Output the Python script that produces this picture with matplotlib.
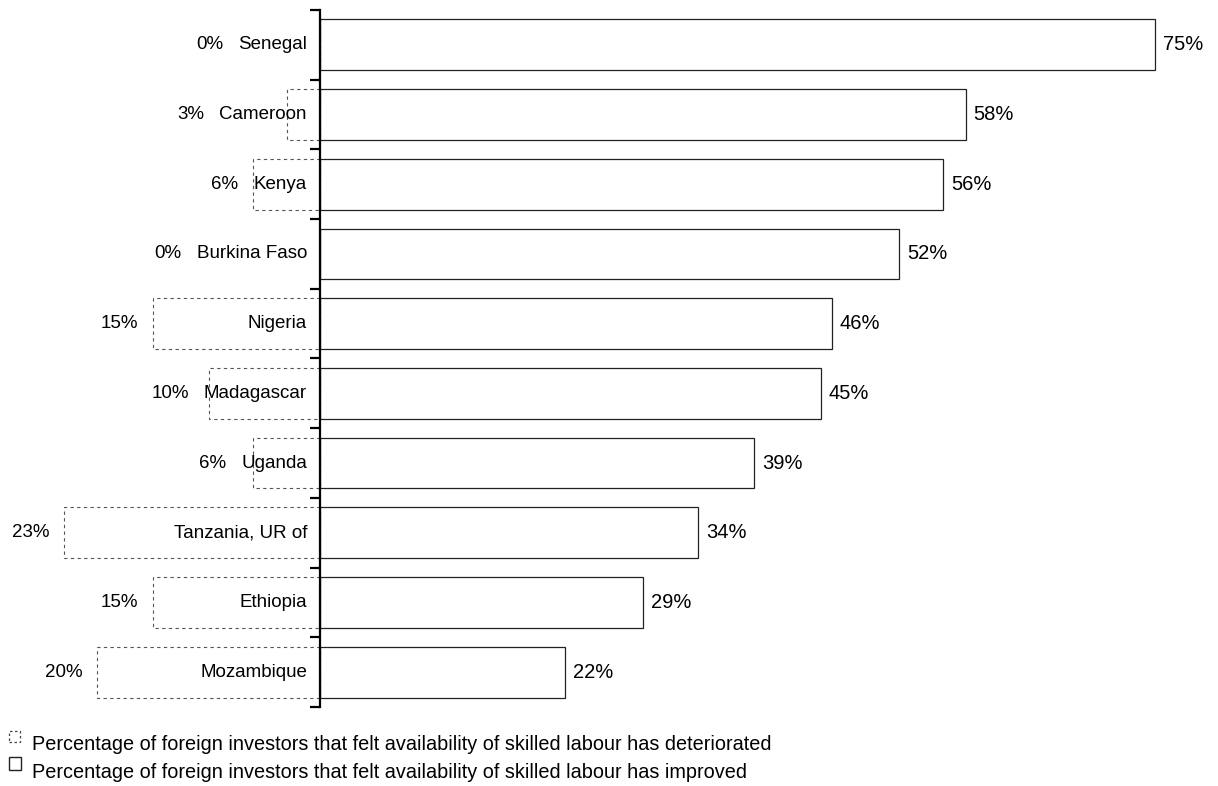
import numpy as np
import matplotlib.pyplot as plt
from matplotlib.patches import Rectangle

plt.rcParams['font.family'] = ['Liberation Sans', 'DejaVu Sans']

# Datos (de arriba hacia abajo)
countries = ['Senegal', 'Cameroon', 'Kenya', 'Burkina Faso', 'Nigeria',
             'Madagascar', 'Uganda', 'Tanzania, UR of', 'Ethiopia', 'Mozambique']
improved = [75, 58, 56, 52, 46, 45, 39, 34, 29, 22]
deteriorated = [0, 3, 6, 0, 15, 10, 6, 23, 15, 20]
legend_labels = ['Percentage of foreign investors that felt availability of skilled labour has deteriorated',
                 'Percentage of foreign investors that felt availability of skilled labour has improved']

W, H, DPI = 1218, 786, 100
fs = 13.5
fig = plt.figure(figsize=(W / DPI, H / DPI), dpi=DPI)

# eixo: x=0 em 320 px, 11.13 px por ponto percentual
px_per = 11.13
x0 = 320
ax = fig.add_axes([0, (H - 707) / H, 1, 697 / H])
ax.set_xlim(-x0 / px_per, (W - x0) / px_per)
n = len(countries)
y = np.arange(n)
ax.set_ylim(n - 0.5, -0.5)

ax.barh(y, improved, height=0.73, left=0, facecolor='white',
        edgecolor='#222222', linewidth=0.9)
ax.barh(y, [-d for d in deteriorated], height=0.73, left=0, facecolor='white',
        edgecolor='#555555', linewidth=0.8, linestyle=(0, (3, 3)))

for s in ['top', 'right', 'bottom']:
    ax.spines[s].set_visible(False)
ax.spines['left'].set_position(('data', 0))
ax.spines['left'].set_linewidth(1.6)
ax.set_xticks([])
ax.set_yticks(np.arange(-0.5, n, 1))
ax.set_yticklabels([])
ax.tick_params(axis='y', direction='out', length=7, width=1.6)

# nomes dos países
name_texts = []
for i, c in enumerate(countries):
    t = ax.annotate(c, (0, i), xytext=(-13, 0), textcoords='offset pixels',
                    ha='right', va='center', fontsize=fs)
    name_texts.append(t)

# rótulos da direita
for i, v in enumerate(improved):
    ax.annotate(f'{v}%', (v, i), xytext=(8, 0), textcoords='offset pixels',
                ha='left', va='center', fontsize=14.5)

# rótulos da esquerda (à esquerda da barra ou do nome)
fig.canvas.draw()
r = fig.canvas.get_renderer()
inv = ax.transData.inverted()
for i, d in enumerate(deteriorated):
    bb = name_texts[i].get_window_extent(r)
    name_left = inv.transform((bb.x0, 0))[0]
    xpos = min(-d, name_left)
    ax.annotate(f'{d}%', (xpos, i), xytext=(-15, 0), textcoords='offset pixels',
                ha='right', va='center', fontsize=fs)

# legenda
fig.add_artist(Rectangle((9 / W, 1 - 742 / H), 11 / W, 11 / H, transform=fig.transFigure,
                         facecolor='white', edgecolor='#444444', linewidth=0.9,
                         linestyle=(0, (2, 2))))
fig.add_artist(Rectangle((9 / W, 1 - 770 / H), 12 / W, 13 / H, transform=fig.transFigure,
                         facecolor='white', edgecolor='#222222', linewidth=1.0))
fig.text(32 / W, 1 - 745 / H, legend_labels[0], ha='left', va='center', fontsize=14.3)
fig.text(32 / W, 1 - 773 / H, legend_labels[1], ha='left', va='center', fontsize=14.3)

fig.savefig('out.png', dpi=DPI)
